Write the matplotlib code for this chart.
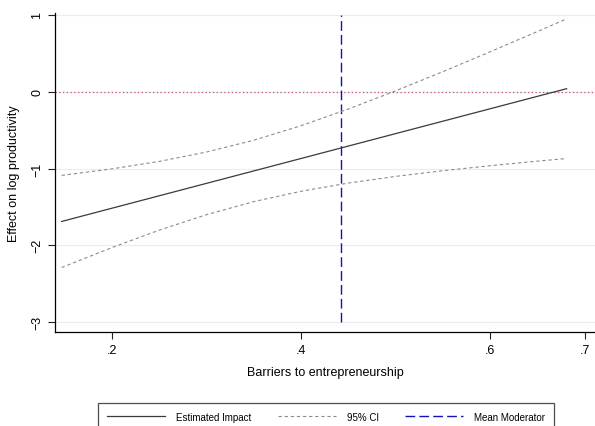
import matplotlib
matplotlib.use("Agg")
import matplotlib.pyplot as plt

plt.rcParams["font.family"] = ["Liberation Sans", "DejaVu Sans"]

# Values
moderator = [0.147, 0.2, 0.25, 0.3, 0.35, 0.4, 0.45, 0.5, 0.55, 0.6, 0.65, 0.681]
impact = [-1.69, -1.518, -1.356, -1.194, -1.032, -0.870, -0.708, -0.546, -0.384, -0.222, -0.060, 0.04]
ci_upper = [-1.09, -1.005, -0.908, -0.786, -0.632, -0.443, -0.226, 0.011, 0.261, 0.52, 0.784, 0.95]
ci_lower = [-2.29, -2.031, -1.804, -1.602, -1.432, -1.297, -1.19, -1.103, -1.029, -0.964, -0.904, -0.87]
mean_moderator = 0.442

x_ticks = [0.2, 0.4, 0.6, 0.7]
x_ticklabels = [".2", ".4", ".6", ".7"]
y_ticks = [1, 0, -1, -2, -3]
y_ticklabels = ["1", "0", "\u22121", "\u22122", "\u22123"]

fig = plt.figure(figsize=(5.95, 4.27), dpi=100)
ax = fig.add_axes([55 / 595, 1 - 333 / 427, 1 - 55 / 595, (333 - 14) / 427])

for yt in y_ticks:
    ax.axhline(yt, color="#ececec", lw=0.8, zorder=0)
ax.axhline(0, color="#c8506a", lw=0.9, ls=(0, (1, 2)), zorder=1)

ax.plot(moderator, impact, color="#3a3a3a", lw=0.9, label="Estimated Impact", zorder=3)
ax.plot(moderator, ci_upper, color="#8c8c8c", lw=0.8, ls=(0, (3, 2.5)), label="95% CI", zorder=3)
ax.plot(moderator, ci_lower, color="#8c8c8c", lw=0.8, ls=(0, (3, 2.5)), zorder=3)
ax.vlines(mean_moderator, min(y_ticks), max(y_ticks), color="#1414b4", lw=1.0,
          linestyles=[(0, (7, 3))], label="Mean Moderator", zorder=2)

ax.set_xlim(0.14, 0.711)
ax.set_ylim(-3.13, 1.026)
ax.set_xticks(x_ticks)
ax.set_xticklabels(x_ticklabels)
ax.set_yticks(y_ticks)
ax.set_yticklabels(y_ticklabels, rotation=90, va="center")
ax.tick_params(axis="both", labelsize=9, length=5, width=0.8, direction="out", color="#222222")
ax.tick_params(axis="x", pad=4)

for spine in ["top", "right"]:
    ax.spines[spine].set_visible(False)
for spine in ["left", "bottom"]:
    ax.spines[spine].set_linewidth(0.9)

ax.set_xlabel("Barriers to entrepreneurship", fontsize=9, labelpad=7)
ax.set_ylabel("Effect on log productivity", fontsize=9, labelpad=8)

handles, labels = ax.get_legend_handles_labels()
leg = fig.legend(
    handles,
    labels,
    loc="upper center",
    bbox_to_anchor=(326 / 595, 1 - 399 / 427),
    ncol=3,
    fontsize=7,
    frameon=True,
    fancybox=False,
    handlelength=6.0,
    handletextpad=1.1,
    columnspacing=2.7,
    borderpad=0.9,
)
leg.get_frame().set_edgecolor("#222222")
leg.get_frame().set_linewidth(0.9)

fig.savefig("out.png", dpi=100)
